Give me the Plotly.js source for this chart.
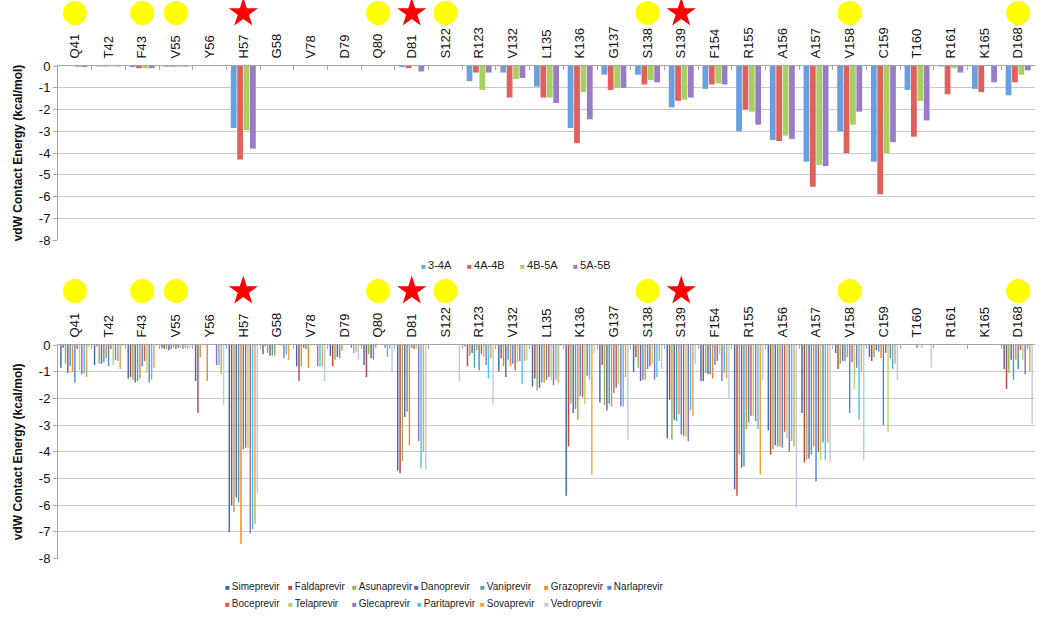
<!DOCTYPE html>
<html><head><meta charset="utf-8">
<script src="https://cdn.plot.ly/plotly-3.0.1.min.js"></script>
<style>body{margin:0;background:#fff}#chart{width:1050px;height:619px}</style>
</head><body><div id="chart"></div>
<script>
// ---------- categories ----------
const residues = ['Q41','T42','F43','V55','Y56','H57','G58','V78','D79','Q80','D81','S122','R123','V132','L135','K136','G137','S138','S139','F154','R155','A156','A157','V158','C159','T160','R161','K165','D168'];
const circleResidues = ['Q41','F43','V55','Q80','S122','S138','V158','D168'];
const starResidues = ['H57','D81','S139'];
const yTickVals = [0,-1,-2,-3,-4,-5,-6,-7,-8];
const yTickText = ['0','-1','-2','-3','-4','-5','-6','-7','-8'];

// ---------- top panel: substrate complexes ----------
const complexNames = ['3-4A','4A-4B','4B-5A','5A-5B'];
const complex34A = [0,-0.02,-0.05,-0.03,0,-2.85,0,0,0,0,-0.05,0,-0.7,-0.3,-0.95,-2.85,-0.4,-0.4,-1.9,-1.05,-3.0,-3.4,-4.4,-3.0,-4.4,-1.1,-0.02,-1.05,-1.35];
const complex4A4B = [0,-0.02,-0.1,-0.03,0,-4.3,0,0,0,0,-0.1,0,-0.3,-1.45,-1.45,-3.55,-1.1,-0.85,-1.6,-0.85,-2.0,-3.45,-5.55,-4.0,-5.9,-3.25,-1.3,-1.2,-0.75];
const complex4B5A = [-0.05,-0.02,-0.1,-0.03,0,-2.95,0,0,0,0,0,0,-1.1,-0.6,-1.45,-1.2,-1.0,-0.65,-1.55,-0.8,-2.1,-3.2,-4.55,-2.7,-4.0,-1.6,-0.1,0,-0.4];
const complex5A5B = [-0.05,-0.02,-0.1,-0.03,0,-3.8,0,0,0,0,-0.25,0,-0.3,-0.55,-1.7,-2.45,-1.0,-0.75,-1.45,-0.85,-2.7,-3.35,-4.6,-2.1,-3.5,-2.5,-0.3,-0.75,-0.2];

// ---------- bottom panel: inhibitors ----------
const inhibitorNames = ['Simeprevir','Faldaprevir','Asunaprevir','Danoprevir','Vaniprevir','Grazoprevir','Narlaprevir','Boceprevir','Telaprevir','Glecaprevir','Paritaprevir','Sovaprevir','Vedroprevir'];
const simeprevir   = [-0.85,-0.75,-1.25,-0.1,-1.35,-7.0,-0.35,-0.8,-0.4,-0.75,-4.7,0,-0.05,-1.0,-1.55,-5.65,-2.15,-1.0,-3.5,-1.35,-5.4,-3.2,-2.55,-0.3,-0.45,0,0,0,-0.9];
const faldaprevir  = [-0.1,-0.05,-1.2,-0.15,-2.55,-6.0,-0.05,-1.35,-0.8,-1.2,-4.8,0,-0.8,-0.5,-1.25,-3.8,-0.75,-0.45,-2.05,-1.35,-5.65,-4.1,-4.4,-0.9,-0.6,0,0,0,-1.65];
const asunaprevir  = [-0.7,-0.7,-1.3,-0.15,-0.45,-6.25,-0.3,-0.8,-0.55,-0.35,-4.35,0,-0.4,-0.8,-1.7,-2.2,-2.25,-0.85,-3.55,-1.05,-4.1,-3.9,-4.3,-0.7,-0.45,0,0,0,-1.05];
const danoprevir   = [-1.05,-0.7,-1.4,-0.2,0,-5.7,-0.4,-0.1,-0.45,-0.5,-2.7,0,-0.3,-1.2,-1.6,-2.55,-2.45,-1.35,-2.8,-1.1,-4.6,-3.75,-4.25,-0.6,-0.2,0,0,0,-0.55];
const vaniprevir   = [-0.8,-0.65,-1.35,-0.15,0,-5.9,-0.4,-0.15,-0.5,-0.55,-2.5,0,-0.85,-0.55,-1.4,-2.4,-2.2,-1.3,-2.85,-1.1,-4.55,-3.8,-4.1,-0.6,-0.25,0,0,0,-1.3];
const grazoprevir  = [-1.0,-0.5,-1.25,-0.1,-1.35,-7.45,-0.4,-0.85,-0.2,-0.1,-3.75,0,-0.2,-0.8,-1.4,-2.8,-2.3,-1.3,-2.6,-1.25,-3.15,-3.8,-3.8,-0.45,-0.5,0,0,0,-0.55];
const narlaprevir  = [-1.4,-0.8,-0.8,-0.15,0,-3.9,0,0,0,0,-0.1,0,-0.95,-0.7,-1.3,-1.9,-1.8,-0.9,-3.35,-0.75,-2.9,-3.85,-5.1,-2.55,-3.0,-0.1,0,0,-0.9];
const boceprevir   = [-0.15,-0.15,-0.6,-0.1,0,-3.85,0,0,0,0,-0.15,0,-0.35,-0.95,-1.2,-1.95,-1.6,-0.8,-3.4,-0.6,-2.65,-3.25,-4.0,-0.65,-0.3,0,0,0,-0.2];
const telaprevir   = [-0.95,-0.75,-1.05,-0.1,0,-3.85,-0.05,0,0,0,-0.15,0,-0.45,-0.65,-1.3,-2.2,-1.45,-0.7,-3.45,-0.35,-2.65,-3.5,-4.3,-1.65,-3.25,-0.1,0,0,-0.55];
const glecaprevir  = [-1.1,-0.55,-1.4,-0.15,-0.75,-7.05,-0.5,-0.8,-0.1,-0.1,-3.6,0,-0.75,-0.6,-1.5,-1.15,-2.3,-1.3,-3.6,-1.35,-2.85,-4.0,-3.65,-0.85,-0.5,0,0,0,-1.1];
const paritaprevir = [-1.05,-0.6,-1.3,-0.1,-0.75,-6.9,-0.35,-0.8,-0.3,-0.45,-4.6,0,-1.25,-1.45,-1.3,-1.3,-2.3,-1.2,-2.45,-1.05,-3.15,-3.6,-4.3,-2.8,-0.9,0,0,0,-0.15];
const sovaprevir   = [-1.2,-0.9,-0.85,-0.15,-1.1,-6.7,-0.55,-0.8,-0.25,-0.15,-4.0,0,-0.5,-0.6,-1.4,-4.85,-1.2,-0.6,-2.65,-1.25,-4.85,-3.8,-3.65,-1.0,-0.7,0,0,0,-1.0];
const vedroprevir  = [-0.1,-0.05,-0.05,-0.1,-2.25,-5.55,0,-1.35,-0.55,-1.0,-4.7,-1.35,-2.25,-0.55,-0.05,-0.3,-3.55,-0.9,-0.7,-2.0,-1.3,-6.1,-4.4,-4.3,-1.3,-0.85,0,0,-2.95];

// ---------- styles ----------
const complexSeries = [complex34A, complex4A4B, complex4B5A, complex5A5B];
const complexColors = ['#6A9FDE','#E0605C','#A8CF62','#9A7CC6'];
const inhibitorSeries = [simeprevir,faldaprevir,asunaprevir,danoprevir,vaniprevir,grazoprevir,narlaprevir,boceprevir,telaprevir,glecaprevir,paritaprevir,sovaprevir,vedroprevir];
const inhibitorColors = ['#3D6DB0','#C0463F','#8DB455','#7A5AA4','#3FA6C2','#F08A2E','#4A8CDB','#D85650','#B3D66C','#9470C6','#4CC6E8','#F6A03E','#B8CDEA'];

const W = 1050, H = 619;
const font = 'Liberation Sans, Arial, sans-serif';
const traces = [];

function addGroup(series, names, colors, xa, ya, groupWidth, fill) {
  const slot = groupWidth / series.length;
  series.forEach((vals, k) => {
    traces.push({
      type: 'bar', x: residues, y: vals, name: names[k], xaxis: xa, yaxis: ya,
      marker: {color: colors[k], line: {width: 0}},
      width: slot * fill, offset: -groupWidth / 2 + k * slot + slot * (1 - fill) / 2,
      showlegend: false, hoverinfo: 'x+y+name'
    });
  });
}
addGroup(complexSeries, complexNames, complexColors, 'x', 'y', 0.76, 0.9);
addGroup(inhibitorSeries, inhibitorNames, inhibitorColors, 'x2', 'y2', 0.9, 0.62);

// marker strips (own axes, range 0..1, markers centred)
function addMarkers(xa, ya) {
  traces.push({type:'scatter', mode:'markers', x: circleResidues, y: circleResidues.map(() => 0.5),
    xaxis: xa, yaxis: ya, cliponaxis: false, showlegend: false, hoverinfo: 'skip',
    marker: {symbol: 'circle', size: 24, color: '#FFFF00', line: {width: 0}}});
  traces.push({type:'scatter', mode:'markers', x: starResidues, y: starResidues.map(() => 0.5),
    xaxis: xa, yaxis: ya, cliponaxis: false, showlegend: false, hoverinfo: 'skip',
    marker: {symbol: 'star', size: 22, color: '#FF0000', line: {width: 0}}});
}
addMarkers('x3', 'y3');
addMarkers('x4', 'y4');

function xAxis(anchor) {
  return {anchor: anchor, domain: [0, 1], type: 'category', categoryorder: 'array', categoryarray: residues,
    range: [-0.5, residues.length - 0.5], side: 'top', tickangle: -90,
    ticks: 'inside', tickson: 'boundaries', ticklen: 4, tickcolor: '#A6A6A6',
    showline: true, linecolor: '#A6A6A6', linewidth: 1, showgrid: false, zeroline: false,
    ticklabelstandoff: 4, tickfont: {family: font, size: 13, color: '#111'}, fixedrange: true};
}
function yAxis(anchor, domain) {
  return {anchor: anchor, domain: domain, range: [-8, 0], tickmode: 'array', tickvals: yTickVals, ticktext: yTickText,
    showgrid: true, gridcolor: '#C9C9C9', gridwidth: 1, zeroline: false,
    showline: true, linecolor: '#A6A6A6', ticks: 'outside', ticklen: 4, tickcolor: '#A6A6A6',
    tickfont: {family: font, size: 13, color: '#111'}, fixedrange: true,
    title: {text: 'vdW Contact Energy (kcal/mol)', font: {family: font, size: 12, color: '#111', weight: 'bold'}, standoff: 13}};
}
function hiddenX(anchor) {
  return {anchor: anchor, domain: [0, 1], type: 'category', categoryorder: 'array', categoryarray: residues,
    range: [-0.5, residues.length - 0.5], visible: false, fixedrange: true};
}
function hiddenY(anchor, domain) {
  return {anchor: anchor, domain: domain, range: [0, 1], visible: false, fixedrange: true};
}

const annotations = [];
function legendItem(px, py, color, name, size) {
  annotations.push({xref: 'paper', yref: 'paper', x: (px - 58) / (W - 58 - 15), y: (H - py) / H,
    xanchor: 'left', yanchor: 'middle', showarrow: false,
    text: '<span style="color:' + color + ';font-size:8px">■</span>\u2009' + name,
    font: {family: font, size: size, color: '#222'}});
}
const topLegendX = [419, 465, 518, 571];
complexNames.forEach((n, k) => legendItem(topLegendX[k], 265, complexColors[k], n, 11));
const botLegendX = [223, 286, 350, 412, 478, 542, 605];
inhibitorNames.forEach((n, k) => {
  const row = k < 7 ? 0 : 1, col = k < 7 ? k : k - 7;
  const colX = row === 1 && col === 3 ? 415 : botLegendX[col];
  legendItem(colX, row === 0 ? 586 : 603, inhibitorColors[k], n, 10);
});

const layout = {
  width: W, height: H, margin: {l: 58, r: 15, t: 0, b: 0},
  paper_bgcolor: '#fff', plot_bgcolor: 'rgba(0,0,0,0)', barmode: 'overlay', showlegend: false,
  font: {family: font},
  xaxis: xAxis('y'), yaxis: yAxis('x', [(H - 240) / H, (H - 66) / H]),
  xaxis2: xAxis('y2'), yaxis2: yAxis('x2', [(H - 558.6) / H, (H - 345) / H]),
  xaxis3: hiddenX('y3'), yaxis3: hiddenY('x3', [(H - 26) / H, 1]),
  xaxis4: hiddenX('y4'), yaxis4: hiddenY('x4', [(H - 304) / H, (H - 278) / H]),
  annotations: annotations
};
Plotly.newPlot('chart', traces, layout, {displayModeBar: false, staticPlot: true});
</script></body></html>
